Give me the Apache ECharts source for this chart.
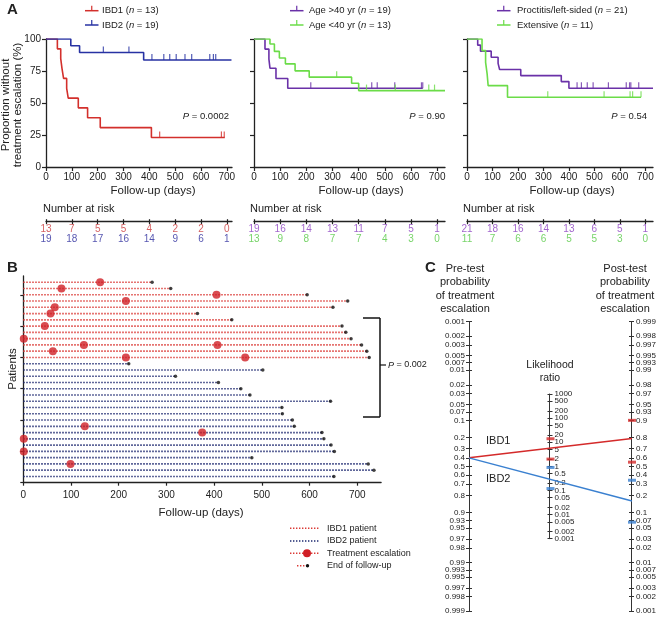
<!DOCTYPE html>
<html><head><meta charset="utf-8">
<script src="https://cdn.jsdelivr.net/npm/echarts@6/dist/echarts.min.js"></script>
<style>html,body{margin:0;padding:0;background:#fff}#c{width:665px;height:619px}</style>
</head><body><div id="c"></div>
<script>
// ================= DATA =================
// Panel A: Kaplan-Meier step curves (days, % without escalation) and censor marks
const dayTicks = [0, 100, 200, 300, 400, 500, 600, 700];
const pctTicks = [0, 25, 50, 75, 100];

const ibd1Times = [0, 44, 57, 62, 68, 80, 86, 125, 161, 210, 408, 692];
const ibd1Surv  = [100, 92.3, 84.6, 76.9, 69.2, 61.5, 53.8, 46.2, 38.5, 30.8, 23.1, 23.1];
const ibd1Cens  = [440, 679, 690];
const ibd2Times = [0, 96, 130, 378, 718];
const ibd2Surv  = [100, 94.7, 89.5, 83.6, 83.6];
const ibd2Cens  = [222, 321, 410, 456, 479, 504, 538, 564, 634, 648, 657];

const oldTimes = [0, 42, 57, 61, 84, 129, 645];
const oldSurv  = [100, 92.1, 84.3, 77.2, 69.1, 61.5, 61.5];
const oldCens  = [217, 450, 471, 538, 640, 645];
const youngTimes = [0, 61, 78, 97, 120, 157, 211, 373, 400, 730];
const youngSurv  = [100, 96.1, 90.3, 85.1, 80.6, 75.1, 70.2, 65.4, 59.7, 59.7];
const youngCens  = [316, 430, 540, 668, 690];

const procTimes = [0, 42, 53, 95, 122, 128, 211, 370, 400, 730];
const procSurv  = [100, 95.2, 90.5, 85.7, 81.0, 76.2, 71.4, 66.7, 61.5, 61.5];
const procCens  = [432, 449, 472, 495, 555, 625, 638, 643, 674];
const extTimes = [0, 59, 73, 79, 83, 159, 683];
const extSurv  = [100, 90.9, 81.8, 72.7, 63.6, 54.5, 54.5];
const extCens  = [317, 538, 640, 650, 683];

// Number at risk
const ibd1Risk  = [13, 7, 5, 5, 4, 2, 2, 0];
const ibd2Risk  = [19, 18, 17, 16, 14, 9, 6, 1];
const oldRisk   = [19, 16, 14, 13, 11, 7, 5, 1];
const youngRisk = [13, 9, 8, 7, 7, 4, 3, 0];
const procRisk  = [21, 18, 16, 14, 13, 6, 5, 1];
const extRisk   = [11, 7, 6, 6, 5, 5, 3, 0];

// Panel B: patients (top to bottom): group, end of follow-up (days), escalation days
const patGroup = ['IBD1','IBD1','IBD1','IBD1','IBD1','IBD1','IBD1','IBD1','IBD1','IBD1','IBD1','IBD1','IBD1',
  'IBD2','IBD2','IBD2','IBD2','IBD2','IBD2','IBD2','IBD2','IBD2','IBD2','IBD2','IBD2','IBD2','IBD2','IBD2','IBD2','IBD2','IBD2','IBD2'];
const patEnd = [270, 309, 595, 680, 649, 365, 437, 668, 676, 687, 709, 720, 725,
  221, 502, 319, 409, 456, 475, 644, 542, 543, 564, 568, 626, 630, 645, 652, 479, 723, 735, 651];
const patEsc = [[161], [80], [405], [215], [66], [57], [], [45], [], [1], [127, 407], [62], [215, 465],
  [], [], [], [], [], [], [], [], [], [], [129], [375], [1], [], [1], [], [99], [], []];
const patientTicks = [0, 5, 10, 15, 20, 25, 30];

// Panel C: Fagan nomogram
const probTicks = [0.001, 0.002, 0.003, 0.005, 0.007, 0.01, 0.02, 0.03, 0.05, 0.07, 0.1, 0.2, 0.3, 0.4, 0.5,
  0.6, 0.7, 0.8, 0.9, 0.93, 0.95, 0.97, 0.98, 0.99, 0.993, 0.995, 0.997, 0.998, 0.999];
const lrTicks = [1000, 500, 200, 100, 50, 20, 10, 5, 2, 1, 0.5, 0.2, 0.1, 0.05, 0.02, 0.01, 0.005, 0.002, 0.001];
const preTest = 0.4;
const postIBD1 = 0.79, postIBD2 = 0.16;
const lrMarksIBD1 = [14, 2], lrMarksIBD2 = [0.9, 0.12];
const postMarksIBD1 = [0.9, 0.55], postMarksIBD2 = [0.34, 0.065];

// ================= STYLE / HELPERS =================
const F = '"Liberation Sans", Arial, Helvetica, sans-serif';
const TXT = '#222';
const RED = '#d3302c', BLUE = '#2732a3', PURPLE = '#6a31a8', GREEN = '#6bdc48';
const logit = p => Math.log(p / (1 - p));
const LIM = logit(0.999) * 1.0002;
const LRLIM = Math.log(1000) / 2 * 1.0002;

function survAt(times, surv, t) { let v = surv[0]; for (let i = 0; i < times.length; i++) if (times[i] <= t) v = surv[i]; return v; }

const grids = [], xAxes = [], yAxes = [], series = [];
function addGrid(g) { grids.push(g); return grids.length - 1; }
function addX(a) { xAxes.push(a); return xAxes.length - 1; }
function addY(a) { yAxes.push(a); return yAxes.length - 1; }
const axLine = { show: true, lineStyle: { color: '#222', width: 1.3 } };

// ---------- Panel A ----------
const aLayout = [{ left: 46, width: 186, max: 720 }, { left: 254, width: 191, max: 730 }, { left: 467, width: 186, max: 730 }];
const aCurves = [
  [[ibd1Times, ibd1Surv, ibd1Cens, RED], [ibd2Times, ibd2Surv, ibd2Cens, BLUE]],
  [[oldTimes, oldSurv, oldCens, PURPLE], [youngTimes, youngSurv, youngCens, GREEN]],
  [[procTimes, procSurv, procCens, PURPLE], [extTimes, extSurv, extCens, GREEN]]
];
const aRisk = [[ibd1Risk, ibd2Risk, '#c9383a', '#2b2b9c'], [oldRisk, youngRisk, '#8b3fc0', '#55c944'], [procRisk, extRisk, '#8b3fc0', '#55c944']];

aLayout.forEach((L, i) => {
  const g = addGrid({ left: L.left, top: 39, width: L.width, height: 128 });
  const xi = addX({ gridIndex: g, type: 'value', min: 0, max: L.max, axisLine: axLine,
    axisTick: { show: true, customValues: dayTicks, length: 4, lineStyle: { color: '#222', width: 1.2 } },
    axisLabel: { customValues: dayTicks, fontSize: 10, color: TXT, fontFamily: F, margin: 5 }, splitLine: { show: false } });
  const yi = addY({ gridIndex: g, type: 'value', min: 0, max: 100, interval: 25, axisLine: axLine,
    axisTick: { show: true, length: 4, lineStyle: { color: '#222', width: 1.2 } },
    axisLabel: { show: i === 0, fontSize: 10, color: TXT, fontFamily: F, margin: 5 }, splitLine: { show: false } });
  aCurves[i].forEach(([T, S, C, col]) => {
    series.push({ type: 'line', xAxisIndex: xi, yAxisIndex: yi, step: 'end', symbol: 'none', silent: true,
      data: T.map((t, k) => [t, S[k]]), lineStyle: { color: col, width: 1.6 }, z: 3 });
    series.push({ type: 'scatter', xAxisIndex: xi, yAxisIndex: yi, symbol: 'rect', symbolSize: [1.2, 6], symbolOffset: [0, -3],
      silent: true, itemStyle: { color: col }, data: C.map(t => [t, survAt(T, S, t)]), z: 4 });
  });
  // risk table
  const rg = addGrid({ left: L.left, top: 224.7, width: L.width, height: 20 });
  const rx = addX({ gridIndex: rg, type: 'value', min: 0, max: L.max, position: 'top', offset: 3, axisLine: axLine,
    axisTick: { show: true, customValues: dayTicks, length: 2.5, lineStyle: { color: '#222', width: 1.2 } },
    axisLabel: { show: false }, splitLine: { show: false } });
  addX({ gridIndex: rg, type: 'value', min: 0, max: L.max, position: 'top', offset: 3, axisLine: { show: false },
    axisTick: { show: true, inside: true, customValues: dayTicks, length: 2.5, lineStyle: { color: '#222', width: 1.2 } },
    axisLabel: { show: false }, splitLine: { show: false } });
  const ry = addY({ gridIndex: rg, type: 'category', data: ['a', 'b'], inverse: true, show: false });
  const [r1, r2, c1, c2] = aRisk[i];
  [[r1, 'a', c1], [r2, 'b', c2]].forEach(([arr, row, col]) => {
    series.push({ type: 'scatter', xAxisIndex: rx, yAxisIndex: ry, symbolSize: 1, itemStyle: { color: 'rgba(0,0,0,0)' }, silent: true,
      data: arr.map((n, k) => [dayTicks[k], row, n]),
      label: { show: true, position: 'inside', formatter: p => String(p.value[2]), color: col, fontSize: 10, fontFamily: F } });
  });
});

// ---------- Panel B ----------
const gB = addGrid({ left: 23.3, top: 276, width: 357.8, height: 206.7 });
const bx = addX({ gridIndex: gB, type: 'value', min: 0, max: 750, axisLine: axLine,
  axisTick: { show: true, customValues: dayTicks, length: 3, lineStyle: { color: '#222', width: 1.2 } },
  axisLabel: { customValues: dayTicks, fontSize: 10, color: TXT, fontFamily: F, margin: 8 }, splitLine: { show: false } });
const by = addY({ gridIndex: gB, type: 'value', min: 0, max: 33, axisLine: axLine,
  axisTick: { show: true, customValues: patientTicks, length: 3, lineStyle: { color: '#222', width: 1.2 } },
  axisLabel: { show: false }, splitLine: { show: false } });
const nPat = patEnd.length;
patEnd.forEach((e, i) => {
  const row = nPat - i;
  const isR = patGroup[i] === 'IBD1';
  series.push({ type: 'line', xAxisIndex: bx, yAxisIndex: by, symbol: 'none', silent: true, data: [[0, row], [e, row]],
    lineStyle: { color: isR ? '#db3a36' : '#1d2870', width: 1.6, type: [1.4, 1.6] }, z: 2 });
});
series.push({ type: 'scatter', xAxisIndex: bx, yAxisIndex: by, symbolSize: 3.5, itemStyle: { color: '#111' }, silent: true,
  data: patEnd.map((e, i) => [e, nPat - i]), z: 4 });
const escPts = [];
patEsc.forEach((arr, i) => arr.forEach(d => escPts.push([d, nPat - i])));
series.push({ type: 'scatter', xAxisIndex: bx, yAxisIndex: by, symbolSize: 8, itemStyle: { color: '#d01f26' }, silent: true, data: escPts, z: 5 });

// ---------- Panel C ----------
const cTop = 321.7, cH = 289.3;
const pxPerUnit = cH / (2 * LIM);
const gCl = addGrid({ left: 469, top: cTop, width: 163, height: cH });
const cxl = addX({ gridIndex: gCl, type: 'value', min: 0, max: 2, show: false });
const cyl = addY({ gridIndex: gCl, type: 'value', min: -LIM, max: LIM, show: false });

function nomoAxes(left, top, height, lim, pos, vals, labels) {
  const g = addGrid({ left: left, top: top, width: 1, height: height });
  addX({ gridIndex: g, type: 'value', show: false });
  const map = {};
  vals.forEach((v, k) => { map[v.toFixed(4)] = labels[k]; });
  const common = { gridIndex: g, type: 'value', min: -lim, max: lim, position: pos, splitLine: { show: false } };
  const lab = (sub) => ({ show: true, customValues: sub, showMinLabel: true, showMaxLabel: true, hideOverlap: false,
    formatter: v => map[(+v).toFixed(4)] || '', fontSize: 8, color: TXT, fontFamily: F, margin: 4 });
  // axis line, outer ticks and even-indexed labels
  addY(Object.assign({}, common, { axisLine: { show: true, lineStyle: { color: '#333', width: 1 } },
    axisTick: { show: true, customValues: vals, length: 3, lineStyle: { color: '#333' } },
    axisLabel: lab(vals.filter((v, k) => k % 2 === 0)) }));
  // inner ticks and odd-indexed labels
  addY(Object.assign({}, common, { axisLine: { show: false },
    axisTick: { show: true, inside: true, customValues: vals, length: 3, lineStyle: { color: '#333' } },
    axisLabel: lab(vals.filter((v, k) => k % 2 === 1)) }));
}
nomoAxes(469, cTop, cH, LIM, 'left', probTicks.map(p => -logit(p)), probTicks.map(String));
nomoAxes(549.5, 466.35 - LRLIM * pxPerUnit, 2 * LRLIM * pxPerUnit, LRLIM, 'right', lrTicks.map(v => Math.log(v) / 2), lrTicks.map(String));
nomoAxes(631, cTop, cH, LIM, 'right', probTicks.map(p => logit(p)), probTicks.map(String));

const CRED = '#d42a2a', CBLUE = '#3a80d0';
series.push({ type: 'line', xAxisIndex: cxl, yAxisIndex: cyl, symbol: 'none', silent: true,
  data: [[0, -logit(preTest)], [2, logit(postIBD1)]], lineStyle: { color: CRED, width: 1.5 }, z: 3 });
series.push({ type: 'line', xAxisIndex: cxl, yAxisIndex: cyl, symbol: 'none', silent: true,
  data: [[0, -logit(preTest)], [2, logit(postIBD2)]], lineStyle: { color: CBLUE, width: 1.5 }, z: 3 });
series.push({ type: 'scatter', xAxisIndex: cxl, yAxisIndex: cyl, symbol: 'rect', symbolSize: [8, 3], silent: true, itemStyle: { color: CRED },
  data: lrMarksIBD1.map(v => [1, Math.log(v) / 2]).concat(postMarksIBD1.map(p => [2, logit(p)])), z: 5 });
series.push({ type: 'scatter', xAxisIndex: cxl, yAxisIndex: cyl, symbol: 'rect', symbolSize: [8, 3], silent: true, itemStyle: { color: CBLUE },
  data: lrMarksIBD2.map(v => [1, Math.log(v) / 2]).concat(postMarksIBD2.map(p => [2, logit(p)])), z: 5 });

// ---------- Graphic texts ----------
function txt(x, y, text, o) {
  o = o || {};
  return { type: 'text', x: x, y: y, rotation: o.rot || 0, z: 10, silent: true,
    style: { text: text, fill: o.color || TXT, font: (o.italic ? 'italic ' : '') + (o.bold ? 'bold ' : '') + (o.size || 10) + 'px ' + F,
      align: o.align || 'left', textAlign: o.align || 'left', verticalAlign: o.va || 'middle', textVerticalAlign: o.va || 'middle',
      lineHeight: o.lh, rich: o.rich } };
}
function richT(x, y, text, size, align) {
  const st = { fontSize: size, fontFamily: F, fill: TXT, color: TXT };
  return txt(x, y, text, { size: size, align: align, rich: { a: st, i: Object.assign({}, st, { fontStyle: 'italic' }) } });
}
function ln(x1, y1, x2, y2, col, w, dash) {
  return { type: 'line', z: 10, silent: true, shape: { x1, y1, x2, y2 }, style: { stroke: col, lineWidth: w || 1.5, lineDash: dash || null } };
}
const G = [];
G.push(txt(7, 10, 'A', { bold: true, size: 15 }));
G.push(txt(7, 268, 'B', { bold: true, size: 15 }));
G.push(txt(425, 268, 'C', { bold: true, size: 15 }));
// A legends
[[85, 102, 'IBD1', '13', RED, 10.7], [85, 102, 'IBD2', '19', BLUE, 25],
 [290, 309, 'Age >40 yr', '19', PURPLE, 10.7], [290, 309, 'Age <40 yr', '13', GREEN, 25],
 [497, 517, 'Proctitis/left-sided', '21', PURPLE, 10.7], [497, 517, 'Extensive', '11', GREEN, 25]].forEach(([lx, tx, name, n, col, y]) => {
  G.push(ln(lx, y, lx + 13.5, y, col, 1.5));
  G.push(ln(lx + 6.75, y, lx + 6.75, y - 5, col, 1.2));
  G.push(richT(tx, y, '{a|' + name + ' (}{i|n}{a| = ' + n + ')}', 9.5));
});
G.push(txt(12, 105, 'Proportion without\ntreatment escalation (%)', { size: 11.5, align: 'center', rot: Math.PI / 2, lh: 11.5 }));
G.push(txt(153, 190.5, 'Follow-up (days)', { size: 11.5, align: 'center' }));
G.push(txt(361, 190.5, 'Follow-up (days)', { size: 11.5, align: 'center' }));
G.push(txt(572, 190.5, 'Follow-up (days)', { size: 11.5, align: 'center' }));
G.push(richT(229, 116, '{i|P}{a| = 0.0002}', 9.5, 'right'));
G.push(richT(445, 116, '{i|P}{a| = 0.90}', 9.5, 'right'));
G.push(richT(647, 116, '{i|P}{a| = 0.54}', 9.5, 'right'));
G.push(txt(43, 209, 'Number at risk', { size: 11 }));
G.push(txt(250, 209, 'Number at risk', { size: 11 }));
G.push(txt(463, 209, 'Number at risk', { size: 11 }));
// B
G.push(txt(13, 369, 'Patients', { size: 11.5, align: 'center', rot: Math.PI / 2 }));
G.push(txt(201, 512.7, 'Follow-up (days)', { size: 11.5, align: 'center' }));
G.push(ln(363, 318, 380, 318, '#111', 1.5));
G.push(ln(380, 318, 380, 417, '#111', 1.5));
G.push(ln(363, 417, 380, 417, '#111', 1.5));
G.push(ln(380, 365, 386, 365, '#111', 1.2));
G.push(richT(388, 365, '{i|P}{a| = 0.002}', 9));
G.push(ln(290, 528.3, 320, 528.3, '#db3a36', 1.5, [1.4, 1.6]));
G.push(ln(290, 541, 320, 541, '#1d2870', 1.5, [1.4, 1.6]));
G.push(ln(290, 553.3, 320, 553.3, '#db3a36', 1.5, [1.4, 1.6]));
G.push({ type: 'circle', z: 11, silent: true, shape: { cx: 307, cy: 553.3, r: 4 }, style: { fill: '#d01f26' } });
G.push(ln(297, 565.7, 306, 565.7, '#db3a36', 1.5, [1.4, 1.6]));
G.push({ type: 'circle', z: 11, silent: true, shape: { cx: 307.5, cy: 565.7, r: 1.7 }, style: { fill: '#111' } });
G.push(txt(327, 528.3, 'IBD1 patient', { size: 9 }));
G.push(txt(327, 541, 'IBD2 patient', { size: 9 }));
G.push(txt(327, 553.3, 'Treatment escalation', { size: 9 }));
G.push(txt(327, 565.7, 'End of follow-up', { size: 9 }));
// C
G.push(txt(465, 262.5, 'Pre-test\nprobability\nof treatment\nescalation', { size: 11, align: 'center', va: 'top', lh: 13.2 }));
G.push(txt(625, 262.5, 'Post-test\nprobability\nof treatment\nescalation', { size: 11, align: 'center', va: 'top', lh: 13.2 }));
G.push(txt(550, 358.5, 'Likelihood\nratio', { size: 10.5, align: 'center', va: 'top', lh: 13.2 }));
G.push(txt(486, 441, 'IBD1', { size: 11 }));
G.push(txt(486, 478.5, 'IBD2', { size: 11 }));

const chart = echarts.init(document.getElementById('c'), null, { renderer: 'canvas' });
chart.setOption({ animation: false, backgroundColor: '#fff', grid: grids, xAxis: xAxes, yAxis: yAxes, series: series, graphic: { elements: G } });
</script></body></html>
